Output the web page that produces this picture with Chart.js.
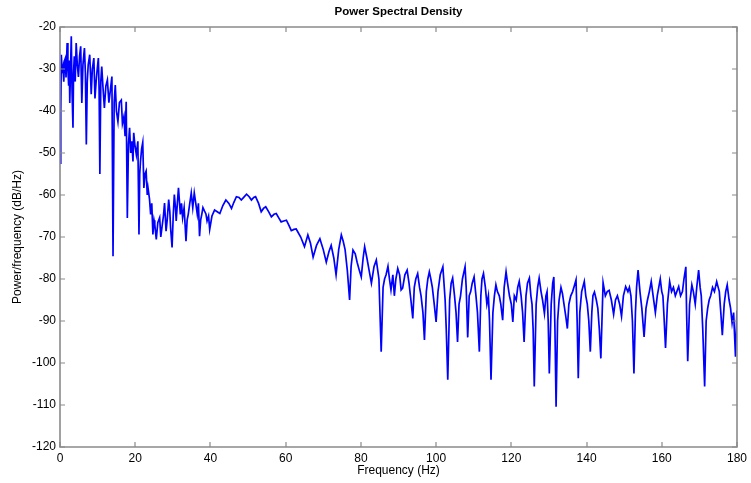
<!DOCTYPE html>
<html>
<head>
<meta charset="utf-8">
<script src="https://cdn.jsdelivr.net/npm/chart.js@4.4.1/dist/chart.umd.min.js"></script>
<style>
html,body{margin:0;padding:0;background:#fff;}
canvas{display:block;}
</style>
</head>
<body>
<canvas id="c" width="751" height="483"></canvas>
<script>
const chartTitle = "Power Spectral Density";
const xTitle = "Frequency (Hz)";
const yTitle = "Power/frequency (dB/Hz)";

const freqs = [
  0, 0.2, 0.35, 0.6, 0.8, 1.0, 1.2, 1.4, 1.6, 1.9,
  2.1, 2.3, 2.45, 2.6, 2.8, 3.0, 3.2, 3.45, 3.6, 3.8,
  4.05, 4.3, 4.6, 4.9, 5.2, 5.5, 5.8, 6.1, 6.5, 6.75,
  7.0, 7.25, 7.5, 7.9, 8.1, 8.3, 8.6, 9.0, 9.3, 9.6,
  9.9, 10.2, 10.4, 10.6, 10.85, 11.1, 11.4, 11.8, 12.2, 12.6,
  13.0, 13.4, 13.8, 14.1, 14.4, 14.7, 15.0, 15.4, 15.8, 16.3,
  16.6, 17.0, 17.3, 17.6, 17.9, 18.2, 18.5, 18.8, 19.1, 19.4,
  19.6, 19.9, 20.3, 20.7, 21.0, 21.2, 21.4, 21.7, 22.0, 22.3,
  22.6, 22.9, 23.2, 23.4, 23.8, 24.1, 24.4, 24.7, 25.0, 25.2,
  25.6, 26.0, 26.5, 26.8, 27.1, 27.5, 27.8, 28.2, 28.5, 28.9,
  29.2, 29.4, 29.8, 30.1, 30.4, 30.7, 30.9, 31.2, 31.5, 32.0,
  32.3, 32.6, 33.0, 33.5, 33.8, 34.1, 34.5, 34.9, 35.3, 35.7,
  36.1, 36.5, 36.8, 37.1, 37.4, 37.7, 38.0, 38.4, 38.8, 39.1,
  39.5, 39.8, 40.4, 41.1, 41.8, 42.5, 43.3, 44.1, 44.9, 45.6,
  46.2, 46.9, 47.6, 48.2, 48.9, 49.6, 50.3, 50.9, 51.5, 52.0,
  52.8, 53.5, 54.1, 54.7, 55.5, 56.2, 56.9, 57.5, 58.2, 58.8,
  59.5, 60.2, 60.9, 61.5, 62.2, 62.8, 64.0, 65.0, 65.9, 66.6,
  67.3, 68.2, 69.1, 70.0, 70.8, 71.5, 72.1, 72.8, 73.4, 74.1,
  74.8, 75.3, 75.8, 76.4, 77.0, 77.4, 77.9, 78.5, 79.0, 79.6,
  80.1, 80.6, 81.0, 81.6, 82.2, 82.8, 83.5, 84.1, 84.8, 85.4,
  85.9, 86.3, 86.7, 87.2, 87.6, 88.0, 88.5, 88.9, 89.3, 89.8,
  90.3, 90.7, 91.1, 91.7, 92.3, 92.8, 93.3, 93.8, 94.2, 94.6,
  95.1, 95.6, 96.0, 96.5, 96.9, 97.4, 97.8, 98.2, 98.6, 99.0,
  99.5, 100.0, 100.5, 101.1, 101.8, 102.4, 102.7, 103.1, 103.6, 104.0,
  104.4, 104.9, 105.3, 105.7, 106.1, 106.5, 107.0, 107.7, 108.0, 108.4,
  108.8, 109.2, 109.6, 110.1, 110.6, 111.0, 111.5, 111.9, 112.2, 112.6,
  113.1, 113.5, 113.9, 114.2, 114.6, 115.1, 115.5, 115.9, 116.3, 116.8,
  117.2, 117.7, 118.1, 118.6, 119.0, 119.5, 120.0, 120.4, 120.8, 121.3,
  121.7, 122.1, 122.6, 123.0, 123.4, 123.9, 124.3, 124.8, 125.2, 125.5,
  125.8, 126.1, 126.6, 127.0, 127.4, 127.9, 128.3, 128.8, 129.2, 129.5,
  129.8, 130.1, 130.6, 131.0, 131.3, 131.6, 131.9, 132.3, 132.7, 133.2,
  133.6, 134.0, 134.5, 134.9, 135.3, 135.8, 136.3, 136.7, 137.2, 137.5,
  137.8, 138.2, 138.7, 139.4, 139.8, 140.2, 140.6, 141.0, 141.4, 141.7,
  142.1, 142.6, 143.0, 143.4, 143.8, 144.4, 145.0, 145.5, 146.0, 146.6,
  147.2, 147.7, 148.2, 148.8, 149.3, 149.8, 150.4, 151.0, 151.4, 151.8,
  152.2, 152.6, 153.0, 153.3, 153.7, 154.2, 154.7, 155.3, 155.8, 156.2,
  156.7, 157.2, 157.7, 158.3, 158.8, 159.2, 159.6, 160.0, 160.3, 160.6,
  161.0, 161.5, 162.1, 162.6, 163.1, 163.6, 164.0, 164.5, 165.0, 165.5,
  165.9, 166.4, 166.6, 166.9, 167.4, 168.0, 168.4, 168.9, 169.3, 169.8,
  170.2, 170.5, 170.9, 171.4, 171.8, 172.2, 172.6, 173.0, 173.5, 174.0,
  174.6, 175.0, 175.3, 175.7, 176.1, 176.6, 177.0, 177.4, 177.9, 178.3,
  178.7, 179.1, 179.6, 180.0
];

const psd = [
  -52.4, -40, -26.6, -31, -29.8, -33, -28, -27.5, -32, -23.8,
  -30, -34, -28, -38.1, -30, -22.2, -35, -44, -31, -27,
  -33, -23.8, -29, -31.9, -27, -24.6, -38.1, -29, -25, -31,
  -48, -33, -29, -26.6, -31, -36, -30, -27.4, -37, -33,
  -30, -27.4, -35, -55, -33, -29.4, -34, -39.3, -34, -32.6,
  -38, -35, -31.8, -74.6, -38, -33.8, -40, -42.5, -38, -37.4,
  -43, -41.3, -46, -37.8, -65.5, -48, -44, -50, -47.2, -52,
  -45.2, -48, -50.4, -47.2, -69.4, -55, -52, -49, -47.5, -58.3,
  -55, -54.3, -60, -58.3, -61, -64.6, -62, -69.4, -66, -67,
  -70.6, -66.6, -65.4, -70, -67.8, -65, -61.9, -68.6, -66, -61.1,
  -64, -67.8, -72.5, -65, -59.9, -63, -66.2, -62, -58.3, -64.6,
  -62, -65.4, -63, -71, -66, -64.6, -62, -59.5, -63, -59.5,
  -62, -64.6, -62, -69.8, -66, -64.6, -63, -63.8, -64.5, -66.2,
  -65, -68.2, -65, -63.6, -64, -64.4, -62.5, -61.2, -62, -63.2,
  -61.8, -60.4, -60.6, -61.2, -60.5, -59.8, -60.4, -61.2, -60.6, -60.4,
  -62, -64, -63.2, -62.8, -64, -65.2, -64.6, -64.4, -65.5, -66.4,
  -66.2, -66, -67.3, -68.5, -68.2, -68.1, -70, -72.3, -69.5, -71.5,
  -74.8, -72, -70.4, -73, -76, -73.5, -72, -75, -79, -73,
  -69.5, -71, -73, -78, -85, -77, -73.1, -74, -76, -78,
  -79.5, -75, -72.3, -75, -78, -81, -77, -75.5, -80, -97.3,
  -82, -80, -79, -77, -80, -82.6, -79, -84, -80, -77.5,
  -79, -82.6, -82.2, -79, -77.9, -81, -85, -89.4, -82, -80,
  -78.7, -82, -84, -88, -94.5, -83, -80, -78.3, -80, -82,
  -86, -90.2, -83, -79, -77.1, -85, -92, -104, -85, -81,
  -79.8, -84, -88, -95, -86, -84, -80, -77.1, -82, -93.9,
  -84, -83, -81, -79.5, -84, -88, -97.3, -84, -80, -78.7,
  -82, -86, -84, -90, -104, -88, -84, -81.4, -83, -84,
  -86, -89.8, -82, -78.3, -81, -84, -86, -90.2, -84, -85,
  -82, -80.6, -84, -88, -95, -84, -81, -79.8, -84, -86,
  -92, -105.6, -86, -82, -79.8, -83, -85, -88.2, -84, -83,
  -90, -102.5, -86, -81, -79.5, -92, -110.4, -90, -85, -82,
  -83.5, -86, -89, -91.8, -86, -84, -83, -81.8, -80.2, -90,
  -103.6, -88, -83, -80.6, -84, -86, -90, -97.3, -88, -84,
  -83.1, -85, -87, -92, -98.9, -80.9, -84, -83, -82.7, -85,
  -88.4, -85, -84, -86, -88.9, -84, -81.8, -83, -82, -84,
  -90, -102.5, -88, -82, -77.9, -83, -87, -93.8, -87, -85,
  -83, -80.6, -84, -88, -84, -82, -80, -83, -84, -89,
  -96.4, -86, -80.6, -83, -82, -84, -83, -81.8, -84, -83,
  -80, -77.1, -88, -99.6, -86, -81.4, -83, -86, -82, -77.9,
  -82, -84, -92, -105.6, -90, -87, -85, -84, -82, -83,
  -80.6, -82, -83, -88, -93.4, -86, -83, -81.4, -85, -87,
  -90.5, -88, -98.5, -87.5
];

const xMin = 0, xMax = 180, xStep = 20;
const yMin = -120, yMax = -20, yStep = 10;

const fontFam = "'Liberation Sans', Arial, Helvetica, sans-serif";

const framePlugin = {
  id: 'matlabFrame',
  afterDatasetsDraw(chart) {
    const ctx = chart.ctx;
    const a = chart.chartArea;
    const xs = chart.scales.x, ys = chart.scales.y;
    const L = Math.round(a.left), R = Math.round(a.right), T = Math.round(a.top), B = Math.round(a.bottom);
    ctx.save();
    ctx.strokeStyle = '#8a8a8a';
    ctx.lineWidth = 1.6;
    ctx.beginPath();
    ctx.rect(L, T, R - L, B - T);
    ctx.stroke();
    ctx.lineWidth = 1.2;
    const tl = 5;
    ctx.beginPath();
    xs.ticks.forEach(t => {
      const px = Math.round(xs.getPixelForValue(t.value));
      ctx.moveTo(px, B); ctx.lineTo(px, B - tl);
      ctx.moveTo(px, T); ctx.lineTo(px, T + tl);
    });
    ys.ticks.forEach(t => {
      const py = Math.round(ys.getPixelForValue(t.value));
      ctx.moveTo(L, py); ctx.lineTo(L + tl, py);
      ctx.moveTo(R, py); ctx.lineTo(R - tl, py);
    });
    ctx.stroke();
    ctx.restore();
  }
};

const n = Math.min(freqs.length, psd.length);
const points = [];
for (let i = 0; i < n; i++) points.push({ x: freqs[i], y: psd[i] });

new Chart(document.getElementById('c'), {
  type: 'line',
  data: {
    datasets: [{
      data: points,
      borderColor: '#0000ff',
      borderWidth: 1.7,
      pointRadius: 0,
      tension: 0,
      fill: false
    }]
  },
  options: {
    responsive: false,
    animation: false,
    parsing: false,
    layout: { padding: { left: 0, right: 13, top: 0, bottom: 0 } },
    plugins: {
      legend: { display: false },
      tooltip: { enabled: false },
      title: {
        display: true,
        text: chartTitle,
        fullSize: false,
        color: '#000',
        font: { family: fontFam, size: 11.5, weight: 'bold', lineHeight: 1.2 },
        padding: { top: 5, bottom: 8.2 }
      }
    },
    scales: {
      x: {
        type: 'linear',
        min: xMin, max: xMax,
        grid: { display: false, drawTicks: false },
        border: { display: false },
        ticks: { stepSize: xStep, color: '#000', padding: 4, maxRotation: 0, font: { family: fontFam, size: 12 } },
        title: { display: true, text: xTitle, color: '#000', font: { family: fontFam, size: 12, lineHeight: 1.2 }, padding: { top: 0, bottom: 5 } },
        afterFit(scale) { scale.height = 36; }
      },
      y: {
        type: 'linear',
        min: yMin, max: yMax,
        grid: { display: false, drawTicks: false },
        border: { display: false },
        ticks: { stepSize: yStep, color: '#000', padding: 4, font: { family: fontFam, size: 12 } },
        title: { display: true, text: yTitle, color: '#000', font: { family: fontFam, size: 12, lineHeight: 1.2 }, padding: { top: 10.4, bottom: 0 } },
        afterFit(scale) { scale.width = 60; }
      }
    }
  },
  plugins: [framePlugin]
});
</script>
</body>
</html>
